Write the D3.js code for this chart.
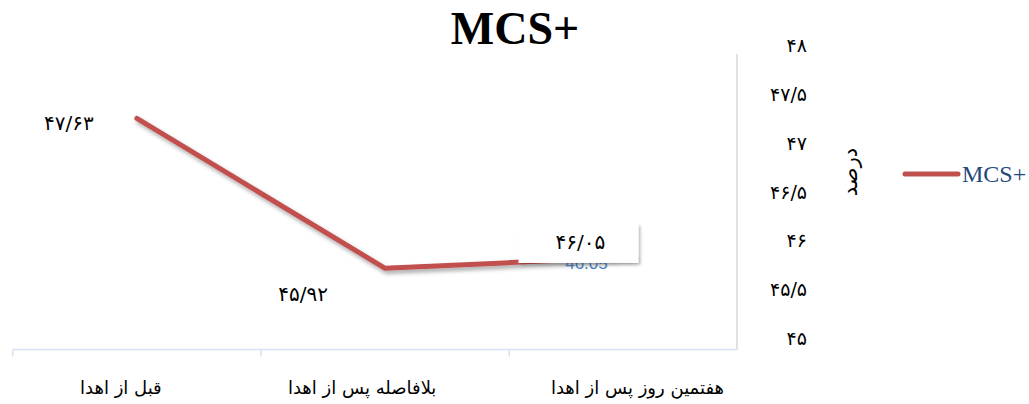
<!DOCTYPE html>
<html>
<head>
<meta charset="utf-8">
<script src="https://cdn.jsdelivr.net/npm/d3@7"></script>
<style>
  body{margin:0;background:#fff;}
  svg{display:block;}
</style>
</head>
<body>
<div id="chart"></div>
<script>
var categories = ["قبل از اهدا", "بلافاصله پس از اهدا", "هفتمین روز پس از اهدا"];
var values = [47.63, 45.92, 46.05];
var valueLabels = ["۴۷/۶۳", "۴۵/۹۲", "۴۶/۰۵"];
var tickValues = [45, 45.5, 46, 46.5, 47, 47.5, 48];
var tickLabels = ["۴۵", "۴۵/۵", "۴۶", "۴۶/۵", "۴۷", "۴۷/۵", "۴۸"];
var seriesName = "MCS+";
var yTitle = "درصد";

var width = 1029, height = 404;
var red = "#c0504d";
var persian = "'DejaVu Sans', sans-serif";

var svg = d3.select("#chart").append("svg")
  .attr("width", width)
  .attr("height", height);

var defs = svg.append("defs");
defs.append("filter").attr("id", "shadow")
  .attr("x", "-10%").attr("y", "-10%").attr("width", "130%").attr("height", "140%")
  .append("feDropShadow")
    .attr("dx", 2).attr("dy", 3).attr("stdDeviation", 2)
    .attr("flood-color", "#000").attr("flood-opacity", 0.35);
defs.append("filter").attr("id", "boxShadow")
  .attr("x", "-10%").attr("y", "-20%").attr("width", "130%").attr("height", "160%")
  .append("feDropShadow")
    .attr("dx", 2).attr("dy", 2).attr("stdDeviation", 1.5)
    .attr("flood-color", "#000").attr("flood-opacity", 0.25);

// x bands
var x = d3.scaleBand()
  .domain(categories)
  .range([12.7, 757.6])
  .padding(0);

// line scale and the (offset) scale the tick labels sit on
var y = d3.scaleLinear().domain([45, 48]).range([349, 86]);
var yTicks = d3.scaleLinear().domain([45, 48]).range([338, 45]);

var plotRight = 737, axisY = 349.5;

// title
svg.append("text")
  .attr("x", 515).attr("y", 44)
  .attr("text-anchor", "middle")
  .style("font-family", "'Liberation Serif', 'Times New Roman', serif")
  .style("font-weight", "bold")
  .style("font-size", "46px")
  .text(seriesName);

// bottom axis
svg.append("line")
  .attr("x1", x.range()[0]).attr("x2", plotRight)
  .attr("y1", axisY).attr("y2", axisY)
  .attr("stroke", "#d5e2f2").attr("stroke-width", 1.5);

svg.selectAll("line.tick")
  .data(categories).enter()
  .append("line")
    .attr("class", "tick")
    .attr("x1", function(d){return x(d);})
    .attr("x2", function(d){return x(d);})
    .attr("y1", axisY).attr("y2", axisY + 7)
    .attr("stroke", "#d5e2f2").attr("stroke-width", 1.5);

// right axis line
svg.append("line")
  .attr("x1", plotRight).attr("x2", plotRight)
  .attr("y1", 54).attr("y2", axisY)
  .attr("stroke", "#d9d9d9").attr("stroke-width", 1.5);

// category labels
var catShift = [-16, -23, 4];
svg.selectAll("text.cat")
  .data(categories).enter()
  .append("text")
    .attr("class", "cat")
    .attr("x", function(d, i){return x(d) + x.bandwidth() / 2 + catShift[i];})
    .attr("y", 394)
    .attr("text-anchor", "middle")
    .attr("direction", "rtl")
    .style("font-family", persian)
    .style("font-size", "18px")
    .style("fill", "#000")
    .text(function(d){return d;});

// y tick labels
svg.selectAll("text.ytick")
  .data(tickValues).enter()
  .append("text")
    .attr("class", "ytick")
    .attr("x", 807)
    .attr("y", function(d){return yTicks(d) + 7;})
    .attr("text-anchor", "end")
    .style("font-family", persian)
    .style("font-size", "19px")
    .text(function(d, i){return tickLabels[i];});

// axis title
svg.append("text")
  .attr("transform", "translate(857,172) rotate(-90)")
  .attr("text-anchor", "middle")
  .style("font-family", persian)
  .style("font-size", "21px")
  .text(yTitle);

// series line
var points = categories.map(function(c, i){return {cat: c, value: values[i]};});
var line = d3.line()
  .x(function(d){return x(d.cat) + x.bandwidth() / 2;})
  .y(function(d){return y(d.value);});

svg.append("path")
  .datum(points)
  .attr("d", line)
  .attr("fill", "none")
  .attr("stroke", red)
  .attr("stroke-width", 5)
  .attr("stroke-linecap", "round")
  .attr("stroke-linejoin", "round")
  .attr("filter", "url(#shadow)");

// hidden default label under the box
var last = points[2];
svg.append("text")
  .attr("x", x(last.cat) + x.bandwidth() / 2 - 47)
  .attr("y", y(last.value) + 12)
  .attr("text-anchor", "middle")
  .style("font-family", "'Liberation Sans', Arial, sans-serif")
  .style("font-size", "17px")
  .style("fill", "#4a7ebb")
  .text(d3.format(".2f")(last.value));

svg.append("rect")
  .attr("x", x(last.cat) + x.bandwidth() / 2 - 115)
  .attr("y", y(last.value) - 33)
  .attr("width", 120).attr("height", 39)
  .attr("fill", "#fff")
  .attr("filter", "url(#boxShadow)");

// data labels
var labelShift = [[-68, 12], [-82, 33], [-53, -8]];
svg.selectAll("text.vlabel")
  .data(points).enter()
  .append("text")
    .attr("class", "vlabel")
    .attr("x", function(d, i){return x(d.cat) + x.bandwidth() / 2 + labelShift[i][0];})
    .attr("y", function(d, i){return y(d.value) + labelShift[i][1];})
    .attr("text-anchor", "middle")
    .style("font-family", persian)
    .style("font-size", "20px")
    .text(function(d, i){return valueLabels[i];});

// legend
svg.append("line")
  .attr("x1", 905).attr("x2", 958)
  .attr("y1", 174).attr("y2", 174)
  .attr("stroke", red).attr("stroke-width", 5)
  .attr("stroke-linecap", "round");

svg.append("text")
  .attr("x", 962).attr("y", 182)
  .style("font-family", "'Liberation Serif', 'Times New Roman', serif")
  .style("font-size", "24px")
  .style("fill", "#1f497d")
  .text(seriesName);
</script>
</body>
</html>
